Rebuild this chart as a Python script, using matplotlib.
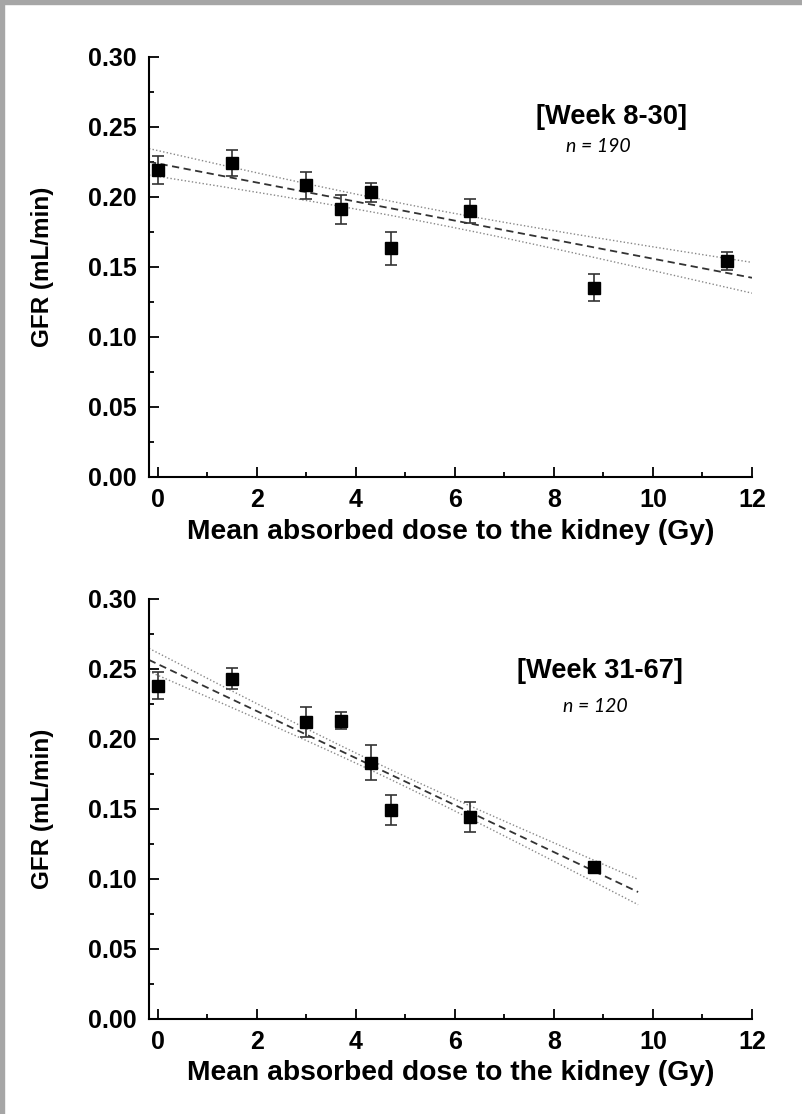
import numpy as np
import matplotlib
matplotlib.use("Agg")
import matplotlib.pyplot as plt
from matplotlib.patches import Rectangle
from matplotlib.ticker import MultipleLocator

# Mean GFR per dose group, weeks 8-30
dose_early = [0.0, 1.5, 3.0, 3.7, 4.3, 4.7, 6.3, 8.8, 11.5]
gfr_early = [0.219, 0.224, 0.208, 0.191, 0.203, 0.163, 0.190, 0.135, 0.154]
err_early = [0.010, 0.009, 0.0095, 0.0105, 0.0065, 0.012, 0.0085, 0.0095, 0.0065]

# Mean GFR per dose group, weeks 31-67
dose_late = [0.0, 1.5, 3.0, 3.7, 4.3, 4.7, 6.3, 8.8]
gfr_late = [0.238, 0.243, 0.212, 0.213, 0.183, 0.149, 0.144, 0.108]
err_late = [0.0095, 0.0075, 0.011, 0.006, 0.0125, 0.0105, 0.0105, 0.002]

# Linear regression: intercept, slope, x-range, confidence band (centre, min half-width, growth)
fit_early = dict(intercept=0.2237, slope=-0.0068, x0=-0.18, x1=12.0, xc=5.3, h0=0.005, k=0.00146)
fit_late = dict(intercept=0.2534, slope=-0.0168, x0=-0.18, x1=9.7, xc=4.5, h0=0.0035, k=0.0016)

period_labels = ["[Week 8-30]", "[Week 31-67]"]
n_labels = ["n = 190", "n = 120"]
x_label = "Mean absorbed dose to the kidney (Gy)"
y_label = "GFR (mL/min)"

W, H = 802, 1114
fig = plt.figure(figsize=(W / 100, H / 100), dpi=100)
fig.patch.set_facecolor("white")

bold = dict(family="Liberation Sans", weight="bold")

def panel(rect, dose, gfr, err, fit, label, nlab, label_xy, n_xy):
    ax = fig.add_axes(rect)
    ax.set_xlim(-0.18, 12)
    ax.set_ylim(0, 0.30)
    for s in ("top", "right"):
        ax.spines[s].set_visible(False)
    for s in ("left", "bottom"):
        ax.spines[s].set_linewidth(1.5)

    ax.xaxis.set_major_locator(MultipleLocator(2))
    ax.xaxis.set_minor_locator(MultipleLocator(1))
    ax.yaxis.set_major_locator(MultipleLocator(0.05))
    ax.yaxis.set_minor_locator(MultipleLocator(0.025))
    ax.tick_params(which="major", direction="in", length=7, width=1.3)
    ax.tick_params(which="minor", direction="in", length=3.5, width=1.3)
    ax.tick_params(axis="x", which="major", pad=8)
    ax.tick_params(axis="y", which="major", pad=9)
    ax.set_yticks(np.arange(0, 0.301, 0.05))
    ax.set_yticklabels([f"{v:.2f}" for v in np.arange(0, 0.301, 0.05)])
    for t in ax.get_xticklabels() + ax.get_yticklabels():
        t.set_fontfamily("Liberation Sans")
        t.set_fontweight("bold")
        t.set_fontsize(18)

    # regression line with confidence band
    xs = np.linspace(fit["x0"], fit["x1"], 200)
    ys = fit["intercept"] + fit["slope"] * xs
    half = np.sqrt(fit["h0"] ** 2 + (fit["k"] * (xs - fit["xc"])) ** 2)
    ax.plot(xs, ys, color="#333333", lw=1.3, ls=(0, (4, 2.5)), zorder=2)
    ax.plot(xs, ys + half, color="#888888", lw=1.0, ls=(0, (1, 1.6)), zorder=2)
    ax.plot(xs, ys - half, color="#888888", lw=1.0, ls=(0, (1, 1.6)), zorder=2)

    ax.errorbar(dose, gfr, yerr=err, fmt="s", color="black", ms=8,
                ecolor="#333333", elinewidth=1.2, capsize=4, capthick=1.2, zorder=3)

    ax.text(*label_xy, label, ha="center", va="center", fontsize=19.6, **bold)
    ax.text(*n_xy, nlab, ha="center", va="center", fontsize=14,
            family="Lato", style="italic")

    ax.set_xlabel(x_label, fontsize=20.3, **bold)
    ax.set_ylabel(y_label, fontsize=17.5, **bold)
    ax.xaxis.set_label_coords(0.5, -0.1)
    ax.yaxis.set_label_coords(-0.158, 0.5)
    return ax

left = 149 / W
width = (752 - 149) / W
panel([left, 1 - 476.7 / H, width, 420 / H], dose_early, gfr_early, err_early,
      fit_early, period_labels[0], n_labels[0], (9.17, 0.257), (8.9, 0.2357))
panel([left, 1 - 1018.5 / H, width, 419.5 / H], dose_late, gfr_late, err_late,
      fit_late, period_labels[1], n_labels[1], (8.93, 0.2488), (8.84, 0.2231))

# grey frame along the top and left edges
fig.patches.append(Rectangle((0, 1 - 4 / H), 1, 4 / H, transform=fig.transFigure,
                             color="#a6a6a6", zorder=10))
fig.patches.append(Rectangle((0, 0), 4 / W, 1, transform=fig.transFigure,
                             color="#a6a6a6", zorder=10))

fig.savefig("out.png", dpi=100, facecolor="white")
